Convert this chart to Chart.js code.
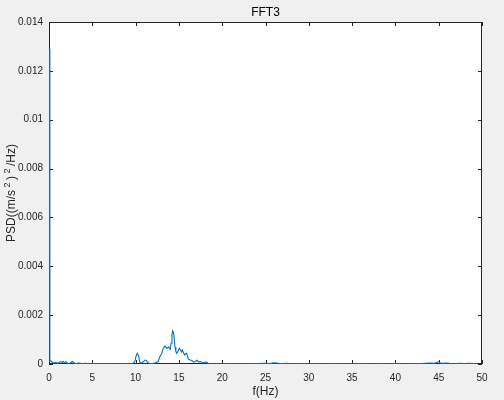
<!DOCTYPE html>
<html>
<head>
<meta charset="utf-8">
<script src="https://cdn.jsdelivr.net/npm/chart.js@4"></script>
<style>
html,body{margin:0;padding:0;background:#f0f0f0;}
canvas{display:block;}
</style>
</head>
<body>
<canvas id="c" width="504" height="400"></canvas>
<script>
const chartTitle = "FFT3";
const xAxisLabel = "f(Hz)";
// y label "PSD((m/s²)²/Hz)" split into base / superscript parts
const yAxisLabelParts = [["PSD((m/s", false], ["2", true], [")", false], ["2", true], ["/Hz)", false]];
const xTickLabels = ["0","5","10","15","20","25","30","35","40","45","50"];
const yTickLabels = ["0","0.002","0.004","0.006","0.008","0.01","0.012","0.014"];

const freq = [0,0.1,0.25,0.4,0.6,0.8,1.0,1.2,1.35,1.5,1.65,1.8,1.95,2.1,2.25,2.45,2.7,2.9,3.1,3.4,3.8,4.2,4.6,5.0,5.5,6.0,6.5,7.0,7.5,8.0,8.5,9.0,9.4,9.7,9.9,10.05,10.2,10.35,10.5,10.7,10.9,11.1,11.2,11.4,11.6,11.9,12.2,12.4,12.6,12.8,13.0,13.2,13.4,13.6,13.8,14.0,14.1,14.2,14.28,14.38,14.48,14.55,14.65,14.74,14.9,15.05,15.15,15.3,15.4,15.55,15.67,15.8,15.9,16.1,16.3,16.5,16.7,16.9,17.1,17.3,17.5,17.7,17.9,18.2,18.4,18.7,19.0,19.5,20,21,22,23,24,25,25.5,26,26.5,27,27.5,28,29,30,31,32,33,34,35,36,37,38,39,40,41,42,43,43.5,44,44.5,44.8,45.0,45.2,45.5,46,46.5,47,47.5,48,48.5,49,49.4];
const psd = [0.0129,0.00012,0.00013,0.00006,0.00004,0.00006,0.00003,0.00007,0.0001,0.00006,0.0001,0.00005,0.0001,0.00004,0.00002,0.00004,0.0001,0.00004,0.00002,0.00004,0.00002,0.00003,0.00001,0.00002,0.00001,0.00002,0.00001,0.00002,0.00001,0.00001,0.00002,0.00001,0.00002,0.00003,0.00008,0.00032,0.00044,0.00033,0.00006,0.00004,0.0001,0.00016,0.00015,0.00006,0.00002,0.00002,0.00004,0.00006,0.0001,0.0003,0.00042,0.00064,0.00073,0.00064,0.0007,0.0006,0.00085,0.0012,0.00136,0.00128,0.00095,0.0007,0.00052,0.00044,0.00052,0.00064,0.0006,0.00049,0.00057,0.00045,0.00037,0.00042,0.00044,0.0002,0.00016,0.00014,0.00008,0.0001,0.00015,0.00008,0.0001,0.00005,0.00006,0.00008,0.00002,0.00001,0.00001,0.00001,0.00001,0.00002,0.00001,0.00002,0.00002,0.00003,0.00002,0.00005,0.00003,0.00002,0.00003,0.00001,0.00002,0.00001,0.00002,0.00001,0.00002,0.00001,0.00001,0.00002,0.00001,0.00002,0.00001,0.00002,0.00001,0.00002,0.00002,0.00003,0.00004,0.00003,0.00006,0.0001,0.00004,0.00003,0.00004,0.00001,0.00002,0.00003,0.00002,0.00003,0.00002,0.00001];

const points = freq.map((f, i) => ({x: f, y: psd[i]}));
const FONT = "'Liberation Sans', Arial, Helvetica, sans-serif";
const AX = '#262626';

const decor = {
  id: 'decor',
  beforeDraw(chart) {
    const {ctx, chartArea: a} = chart;
    ctx.save();
    ctx.fillStyle = '#f0f0f0';
    ctx.fillRect(0, 0, chart.width, chart.height);
    ctx.fillStyle = '#ffffff';
    ctx.fillRect(a.left, a.top, a.right - a.left, a.bottom - a.top);
    ctx.restore();
  },
  beforeDatasetsDraw(chart) {
    const {ctx, chartArea: a, scales} = chart;
    ctx.save();
    ctx.strokeStyle = AX;
    ctx.lineWidth = 1;
    ctx.strokeRect(Math.round(a.left) + 0.5, Math.round(a.top) + 0.5, Math.round(a.right - a.left) - 1, Math.round(a.bottom - a.top) - 1);
    const TL = 4;
    ctx.beginPath();
    scales.x.ticks.forEach(t => {
      const px = Math.round(scales.x.getPixelForValue(t.value)) + 0.5;
      ctx.moveTo(px, a.bottom); ctx.lineTo(px, a.bottom - TL);
      ctx.moveTo(px, a.top); ctx.lineTo(px, a.top + TL);
    });
    scales.y.ticks.forEach(t => {
      const py = Math.round(scales.y.getPixelForValue(t.value)) + 0.5;
      ctx.moveTo(a.left, py); ctx.lineTo(a.left + TL, py);
      ctx.moveTo(a.right, py); ctx.lineTo(a.right - TL, py);
    });
    ctx.stroke();
    ctx.restore();
  },
  afterDraw(chart) {
    const {ctx, chartArea: a} = chart;
    const cx = (a.left + a.right) / 2;
    ctx.save();
    ctx.fillStyle = '#000000';
    ctx.textAlign = 'center';
    ctx.textBaseline = 'middle';
    ctx.font = '12px ' + FONT;
    ctx.fillText(chartTitle, cx, 13);
    ctx.fillStyle = AX;
    ctx.font = '12px ' + FONT;
    ctx.fillText(xAxisLabel, cx, 392);
    // rotated y label with superscripts
    const baseFont = '12px ' + FONT, supFont = '9px ' + FONT;
    const gap = 2.5;
    let total = 0;
    yAxisLabelParts.forEach(([t, sup]) => {
      ctx.font = sup ? supFont : baseFont;
      total += ctx.measureText(t).width + (sup ? 2 * gap : 0);
    });
    ctx.translate(11, (a.top + a.bottom) / 2);
    ctx.rotate(-Math.PI / 2);
    ctx.textAlign = 'left';
    ctx.textBaseline = 'alphabetic';
    let x = -total / 2;
    yAxisLabelParts.forEach(([t, sup]) => {
      if (sup) {
        ctx.font = supFont;
        x += gap;
        ctx.fillText(t, x, -1);
        x += ctx.measureText(t).width + gap;
      } else {
        ctx.font = baseFont;
        ctx.fillText(t, x, 4);
        x += ctx.measureText(t).width;
      }
    });
    ctx.restore();
  }
};

new Chart(document.getElementById('c'), {
  type: 'line',
  data: {
    datasets: [{
      data: points,
      borderColor: '#0072BD',
      borderWidth: 1.1,
      pointRadius: 0,
      tension: 0,
      fill: false
    }]
  },
  options: {
    responsive: false,
    animation: false,
    events: [],
    layout: {padding: {top: 22, right: 22, left: 0, bottom: 0}},
    plugins: {legend: {display: false}, title: {display: false}, tooltip: {enabled: false}},
    scales: {
      x: {
        type: 'linear', min: 0, max: 50,
        ticks: {stepSize: 5, autoSkip: false, maxRotation: 0, color: AX, font: {family: FONT, size: 10}, padding: 8,
          callback: (v, i) => xTickLabels[i]},
        grid: {display: false, drawTicks: false},
        border: {display: false},
        afterFit: s => { s.height = 36; }
      },
      y: {
        type: 'linear', min: 0, max: 0.014,
        ticks: {stepSize: 0.002, autoSkip: false, color: AX, font: {family: FONT, size: 10}, padding: 6,
          callback: (v, i) => yTickLabels[i]},
        grid: {display: false, drawTicks: false},
        border: {display: false},
        afterFit: s => { s.width = 49; }
      }
    }
  },
  plugins: [decor]
});
</script>
</body>
</html>
